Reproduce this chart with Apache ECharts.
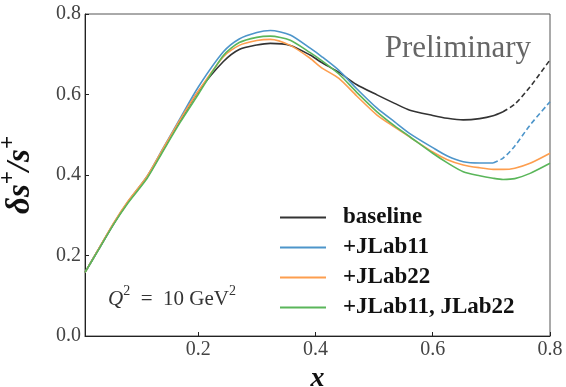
<!DOCTYPE html>
<html>
<head>
<meta charset="utf-8">
<script src="https://cdn.jsdelivr.net/npm/echarts@6/dist/echarts.min.js"></script>
<style>html,body{margin:0;padding:0;background:#fff}#c{width:566px;height:387px}</style>
</head>
<body>
<div id="c"></div>
<script>
const xs = [0.007, 0.03, 0.056, 0.08, 0.113, 0.14, 0.169, 0.2, 0.243, 0.27, 0.3, 0.323, 0.357, 0.391, 0.41, 0.44, 0.47, 0.505, 0.535, 0.561, 0.6, 0.625, 0.652, 0.68, 0.703, 0.72, 0.74, 0.766, 0.8];
const baseline = [0.158, 0.215, 0.279, 0.332, 0.395, 0.462, 0.535, 0.607, 0.682, 0.712, 0.723, 0.727, 0.722, 0.698, 0.680, 0.655, 0.625, 0.599, 0.578, 0.561, 0.548, 0.541, 0.537, 0.540, 0.547, 0.557, 0.576, 0.619, 0.686];
const jlab11 = [0.158, 0.215, 0.280, 0.333, 0.397, 0.466, 0.540, 0.618, 0.706, 0.738, 0.754, 0.759, 0.748, 0.715, 0.695, 0.660, 0.615, 0.566, 0.532, 0.503, 0.468, 0.447, 0.433, 0.430, 0.430, 0.442, 0.472, 0.524, 0.582];
const jlab22 = [0.158, 0.216, 0.281, 0.334, 0.397, 0.465, 0.537, 0.608, 0.694, 0.722, 0.734, 0.737, 0.722, 0.690, 0.667, 0.640, 0.597, 0.549, 0.519, 0.494, 0.457, 0.438, 0.425, 0.418, 0.414, 0.414, 0.417, 0.429, 0.454];
const jlabBoth = [0.158, 0.214, 0.278, 0.330, 0.392, 0.459, 0.530, 0.600, 0.697, 0.729, 0.742, 0.745, 0.735, 0.704, 0.685, 0.651, 0.606, 0.557, 0.522, 0.495, 0.454, 0.430, 0.408, 0.398, 0.392, 0.389, 0.391, 0.404, 0.429];
const baselineDashFrom = 0.72;
const jlab11DashFrom = 0.703;
const names = ['baseline', '+JLab11', '+JLab22', '+JLab11, JLab22'];
const xTicks = [0.2, 0.4, 0.6, 0.8];

const pairs = (ys, lo, hi) => xs.map((x, i) => [x, ys[i]]).filter(p => p[0] >= lo && p[0] <= hi);
const colors = ['#333333', '#4d95ca', '#fd9e4f', '#5ab65a'];
const serif = '"Liberation Serif", serif';

function line(name, data, color, dashed) {
  return {
    type: 'line', name: name, data: data, symbol: 'none', showSymbol: false, smooth: 0.25,
    lineStyle: { color: color, width: 1.6, type: dashed ? [5, 3] : 'solid' },
    itemStyle: { color: color }, z: dashed ? 2 : 3
  };
}

const chart = echarts.init(document.getElementById('c'), null, { renderer: 'canvas' });
chart.setOption({
  animation: false,
  backgroundColor: '#fff',
  grid: { left: 85, right: 16, top: 14, bottom: 51, containLabel: false, outerBoundsMode: 'none', show: true, borderColor: '#555', borderWidth: 1 },
  xAxis: {
    type: 'value', min: 0.007, max: 0.8,
    name: 'x', nameLocation: 'middle', nameGap: 25,
    nameTextStyle: { fontFamily: serif, fontStyle: 'italic', fontWeight: 'bold', fontSize: 28, color: '#111' },
    axisLine: { lineStyle: { color: '#222', width: 1 } },
    axisTick: { inside: true, length: 4, customValues: xTicks, lineStyle: { color: '#222' } },
    axisLabel: { customValues: xTicks, margin: 4, fontFamily: serif, fontSize: 20, color: '#444', formatter: v => v.toFixed(1) },
    splitLine: { show: false }
  },
  yAxis: {
    type: 'value', min: 0, max: 0.8, interval: 0.2,
    name: '{m|δs}{s|+}{m|/s}{s|+}', nameLocation: 'middle', nameGap: 48, nameRotate: 90,
    nameTextStyle: {
      rich: {
        m: { fontFamily: serif, fontStyle: 'italic', fontWeight: 'bold', fontSize: 33, color: '#111', verticalAlign: 'bottom', lineHeight: 40 },
        s: { fontFamily: serif, fontWeight: 'bold', fontSize: 23, color: '#111', verticalAlign: 'top', lineHeight: 40 }
      }
    },
    axisLine: { show: true, lineStyle: { color: '#222', width: 1 } },
    axisTick: { show: true, inside: true, length: 4, lineStyle: { color: '#222' } },
    axisLabel: { margin: 4, fontFamily: serif, fontSize: 20, color: '#444', formatter: v => v.toFixed(1) },
    splitLine: { show: false }
  },
  legend: {
    data: names, orient: 'vertical', left: 274, top: 201, itemWidth: 46, itemHeight: 14, itemGap: 7,
    itemStyle: { opacity: 0 },
    textStyle: { fontFamily: serif, fontWeight: 'bold', fontSize: 23, color: '#111', padding: [0, 0, 0, 12] }
  },
  graphic: [
    { type: 'text', right: 35, top: 33, style: { text: 'Preliminary', fontFamily: serif, fontSize: 31, fill: '#666' } },
    { type: 'text', left: 108, top: 284, style: {
        text: '{q|Q}{s|2}{n|  =  10 GeV}{s|2}',
        rich: {
          q: { fontFamily: serif, fontStyle: 'italic', fontSize: 21, fill: '#333', verticalAlign: 'bottom', lineHeight: 26 },
          n: { fontFamily: serif, fontSize: 21, fill: '#333', verticalAlign: 'bottom', lineHeight: 26 },
          s: { fontFamily: serif, fontSize: 14, fill: '#333', verticalAlign: 'top', lineHeight: 26 }
        } } }
  ],
  series: [
    line(names[0], pairs(baseline, 0, baselineDashFrom), colors[0], false),
    line('baseline-ext', pairs(baseline, baselineDashFrom, 1), colors[0], true),
    line(names[1], pairs(jlab11, 0, jlab11DashFrom), colors[1], false),
    line('jlab11-ext', pairs(jlab11, jlab11DashFrom, 1), colors[1], true),
    line(names[2], pairs(jlab22, 0, 1), colors[2], false),
    line(names[3], pairs(jlabBoth, 0, 1), colors[3], false)
  ]
});
</script>
</body>
</html>
